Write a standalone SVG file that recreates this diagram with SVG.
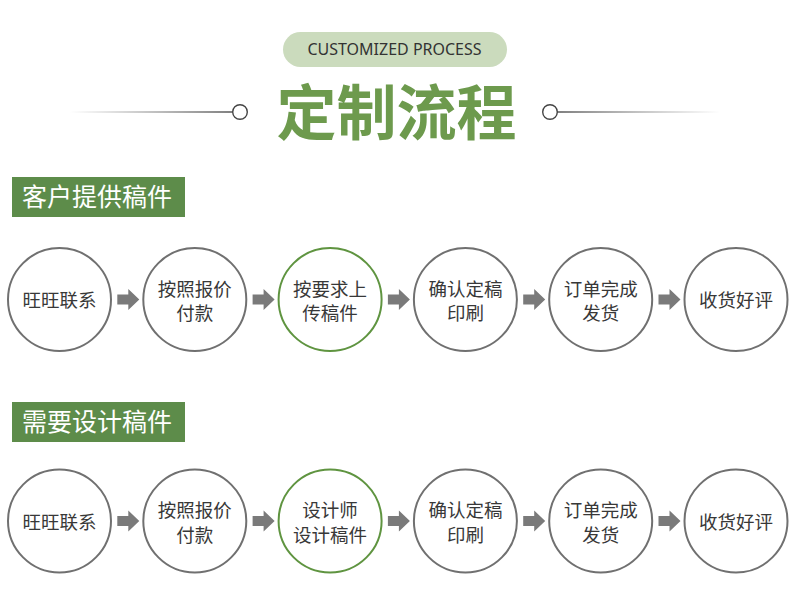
<svg xmlns="http://www.w3.org/2000/svg" width="790" height="596" viewBox="0 0 790 596">
<defs>
<linearGradient id="gl" x1="70" y1="0" x2="233" y2="0" gradientUnits="userSpaceOnUse"><stop offset="0" stop-color="#666" stop-opacity="0"/><stop offset="1" stop-color="#555"/></linearGradient>
<linearGradient id="gr" x1="557" y1="0" x2="720" y2="0" gradientUnits="userSpaceOnUse"><stop offset="0" stop-color="#555"/><stop offset="1" stop-color="#666" stop-opacity="0"/></linearGradient>
<style>
.cjk{font-family:"Noto Sans CJK SC","Noto Sans",sans-serif}
.node{fill:#fff;stroke:#707070;stroke-width:2}
.node.hl{stroke:#5f9440}
.nt{font-size:18.5px;fill:#383838;text-anchor:middle}
.hd{fill:#5d8c4a}
.ht{font-size:25px;fill:#fff}
.arr{fill:#7a7a7a}
.dot{fill:#fff;stroke:#444;stroke-width:1.4}
</style>
</defs>
<rect width="790" height="596" fill="#fff"/>
<g id="header">
<rect x="283" y="32" width="224" height="35" rx="17.5" fill="#cbdbbd"/>
<text x="394.5" y="54.5" font-family="'Noto Sans',sans-serif" font-size="16" fill="#333" text-anchor="middle">CUSTOMIZED PROCESS</text>
<line x1="70" y1="112" x2="233" y2="112" stroke="url(#gl)" stroke-width="1.4"/>
<line x1="557" y1="112" x2="720" y2="112" stroke="url(#gr)" stroke-width="1.4"/>
<circle class="dot" cx="240" cy="112" r="7.3"/>
<circle class="dot" cx="550" cy="112" r="7.3"/>
<text class="cjk" x="396.5" y="135" font-size="60" font-weight="700" fill="#6d9a4d" text-anchor="middle">定制流程</text>
</g>
<g id="section1-title">
<rect class="hd" x="12" y="177" width="173" height="40"/>
<text class="cjk ht" x="22" y="205.5">客户提供稿件</text>
</g>
<g id="s1-n1"><circle class="node" cx="59.5" cy="299.5" r="51.5"/><text class="cjk nt" x="59.5" y="307">旺旺联系</text></g>
<g id="s1-n2"><circle class="node" cx="194.8" cy="299.5" r="51.5"/><text class="cjk nt" x="194.8" y="295.5">按照报价</text><text class="cjk nt" x="194.8" y="320">付款</text></g>
<g id="s1-n3"><circle class="node hl" cx="330.1" cy="299.5" r="51.5"/><text class="cjk nt" x="330.1" y="295.5">按要求上</text><text class="cjk nt" x="330.1" y="320">传稿件</text></g>
<g id="s1-n4"><circle class="node" cx="465.4" cy="299.5" r="51.5"/><text class="cjk nt" x="465.4" y="295.5">确认定稿</text><text class="cjk nt" x="465.4" y="320">印刷</text></g>
<g id="s1-n5"><circle class="node" cx="600.7" cy="299.5" r="51.5"/><text class="cjk nt" x="600.7" y="295.5">订单完成</text><text class="cjk nt" x="600.7" y="320">发货</text></g>
<g id="s1-n6"><circle class="node" cx="736" cy="299.5" r="51.5"/><text class="cjk nt" x="736" y="307">收货好评</text></g>
<g id="section2-title">
<rect class="hd" x="12" y="402" width="173" height="40"/>
<text class="cjk ht" x="22" y="430.5">需要设计稿件</text>
</g>
<g id="s2-n1"><circle class="node" cx="59.5" cy="521" r="51.5"/><text class="cjk nt" x="59.5" y="528.5">旺旺联系</text></g>
<g id="s2-n2"><circle class="node" cx="194.8" cy="521" r="51.5"/><text class="cjk nt" x="194.8" y="517">按照报价</text><text class="cjk nt" x="194.8" y="541.5">付款</text></g>
<g id="s2-n3"><circle class="node hl" cx="330.1" cy="521" r="51.5"/><text class="cjk nt" x="330.1" y="517">设计师</text><text class="cjk nt" x="330.1" y="541.5">设计稿件</text></g>
<g id="s2-n4"><circle class="node" cx="465.4" cy="521" r="51.5"/><text class="cjk nt" x="465.4" y="517">确认定稿</text><text class="cjk nt" x="465.4" y="541.5">印刷</text></g>
<g id="s2-n5"><circle class="node" cx="600.7" cy="521" r="51.5"/><text class="cjk nt" x="600.7" y="517">订单完成</text><text class="cjk nt" x="600.7" y="541.5">发货</text></g>
<g id="s2-n6"><circle class="node" cx="736" cy="521" r="51.5"/><text class="cjk nt" x="736" y="528.5">收货好评</text></g>
<g id="connectors">
<path id="arrow" class="arr" d="M117.3,294.5H128.3V289L139.3,299.5L128.3,310V304.5H117.3Z"/>
<use href="#arrow" x="135.3"/>
<use href="#arrow" x="270.6"/>
<use href="#arrow" x="405.9"/>
<use href="#arrow" x="541.2"/>
<use href="#arrow" y="221.5"/>
<use href="#arrow" x="135.3" y="221.5"/>
<use href="#arrow" x="270.6" y="221.5"/>
<use href="#arrow" x="405.9" y="221.5"/>
<use href="#arrow" x="541.2" y="221.5"/>
</g>
</svg>
